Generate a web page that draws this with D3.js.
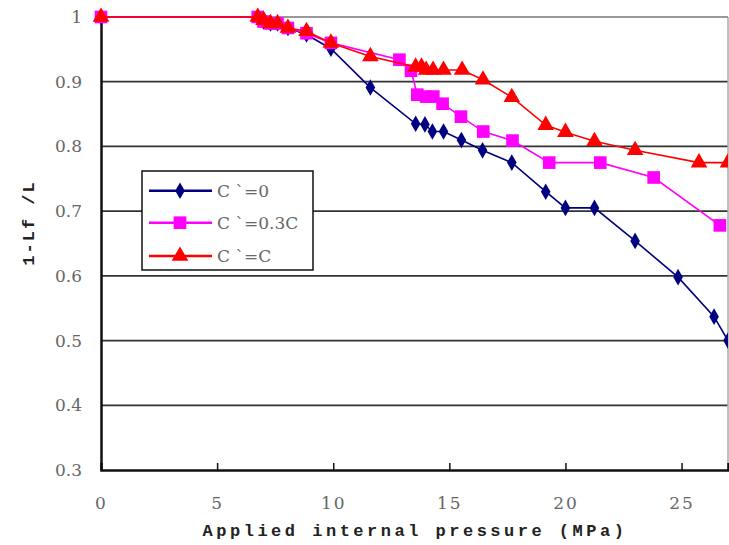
<!DOCTYPE html>
<html>
<head>
<meta charset="utf-8">
<script src="https://cdn.jsdelivr.net/npm/d3@7"></script>
<style>
  html, body { margin: 0; padding: 0; background: #fff; }
  svg { display: block; }
</style>
</head>
<body>
<svg id="chart" width="729" height="545"></svg>
<script>
// ---- data ----
const seriesNames = ["C ˋ=0", "C ˋ=0.3C", "C ˋ=C"];
const blueX = [0, 6.75, 7.0, 7.3, 7.6, 8.05, 8.85, 9.9, 11.6, 13.55, 13.95, 14.27, 14.75, 15.52, 16.43, 17.69, 19.15, 20.0, 21.25, 23.0, 24.85, 26.4, 27.0];
const blueY = [1.0, 1.0, 0.993, 0.99, 0.99, 0.983, 0.973, 0.951, 0.891, 0.835, 0.834, 0.823, 0.823, 0.810, 0.794, 0.775, 0.730, 0.705, 0.705, 0.654, 0.598, 0.537, 0.50];
const pinkX = [0, 6.75, 7.0, 7.3, 7.6, 8.05, 8.85, 9.9, 12.85, 13.35, 13.62, 14.0, 14.31, 14.71, 15.5, 16.46, 17.72, 19.3, 21.5, 23.8, 26.65];
const pinkY = [1.0, 1.0, 0.993, 0.99, 0.99, 0.983, 0.975, 0.96, 0.934, 0.917, 0.880, 0.877, 0.877, 0.866, 0.846, 0.823, 0.809, 0.775, 0.775, 0.752, 0.678];
const redX = [0, 6.75, 7.0, 7.3, 7.6, 8.05, 8.85, 9.9, 11.6, 13.55, 13.8, 14.0, 14.3, 14.75, 15.55, 16.45, 17.69, 19.15, 20.0, 21.25, 23.0, 25.75, 27.0];
const redY = [1.0, 1.0, 0.995, 0.99, 0.99, 0.983, 0.978, 0.96, 0.939, 0.923, 0.923, 0.918, 0.918, 0.918, 0.918, 0.903, 0.876, 0.833, 0.822, 0.808, 0.794, 0.775, 0.775];
const xTicks = [0, 5, 10, 15, 20, 25];
const yTicks = [0.3, 0.4, 0.5, 0.6, 0.7, 0.8, 0.9, 1.0];
const xTitle = "Applied internal pressure (MPa)";
const yTitle = "1-Lf /L";

// ---- layout ----
const svg = d3.select("#chart");
const L = 101, R = 728, T = 17, B = 470;
const x = d3.scaleLinear().domain([0, 27]).range([L, R]);
const y = d3.scaleLinear().domain([0.3, 1.0]).range([B, T]);

const labelFont = "'DejaVu Serif', 'Liberation Serif', serif";
const titleFont = "'Liberation Mono', 'DejaVu Sans Mono', monospace";

// gridlines
svg.append("g").selectAll("line")
  .data(yTicks.filter(d => d > 0.3 && d < 1.0))
  .join("line")
  .attr("x1", L).attr("x2", R)
  .attr("y1", d => y(d)).attr("y2", d => y(d))
  .attr("stroke", "#333").attr("stroke-width", 1.8);

// top and right borders
svg.append("line").attr("x1", L).attr("x2", R).attr("y1", y(1)).attr("y2", y(1))
  .attr("stroke", "#999").attr("stroke-width", 2);
svg.append("line").attr("x1", R).attr("x2", R).attr("y1", T).attr("y2", B)
  .attr("stroke", "#aaa").attr("stroke-width", 1.5);

// y axis
const yAxis = svg.append("g").attr("transform", `translate(${L},0)`)
  .call(d3.axisLeft(y).tickValues(yTicks).tickSize(0).tickPadding(19)
    .tickFormat(d => d === 1 ? "1" : d.toFixed(1)));
yAxis.select(".domain").attr("stroke", "#111").attr("stroke-width", 2.5);
yAxis.selectAll("text").attr("font-family", labelFont).attr("font-size", 17)
  .attr("fill", "#666");

// x axis
const xAxis = svg.append("g").attr("transform", `translate(0,${B})`)
  .call(d3.axisBottom(x).tickValues(xTicks).tickSize(-7).tickPadding(0)
    .tickFormat(d3.format("d")));
xAxis.select(".domain").attr("stroke", "#111").attr("stroke-width", 2.5);
xAxis.selectAll(".tick line").attr("stroke", "#111").attr("stroke-width", 1.5);
xAxis.selectAll("text").attr("font-family", labelFont).attr("font-size", 17)
  .attr("fill", "#666").attr("dy", null).attr("y", 39).attr("letter-spacing", 2);

// titles
svg.append("text").attr("x", (203 + 627) / 2).attr("y", 536)
  .attr("text-anchor", "middle").attr("font-family", titleFont)
  .attr("font-weight", "bold").attr("font-size", 17).attr("letter-spacing", 3.5)
  .attr("fill", "#222").text(xTitle);
svg.append("text").attr("transform", "translate(34,223) rotate(-90)")
  .attr("text-anchor", "middle").attr("font-family", titleFont)
  .attr("font-weight", "bold").attr("font-size", 17).attr("letter-spacing", 2)
  .attr("fill", "#222").text(yTitle);

// clip
svg.append("clipPath").attr("id", "clip").append("rect")
  .attr("x", L - 20).attr("y", T - 20).attr("width", R - L + 20).attr("height", B - T + 40);

const series = [
  { name: seriesNames[0], xs: blueX, ys: blueY, color: "#000080", sym: d3.symbolDiamond, size: 80 },
  { name: seriesNames[1], xs: pinkX, ys: pinkY, color: "#ff00ff", sym: d3.symbolSquare, size: 160 },
  { name: seriesNames[2], xs: redX, ys: redY, color: "#ff0000", sym: d3.symbolTriangle, size: 120 }
];

const plot = svg.append("g").attr("clip-path", "url(#clip)");
const line = d3.line().x(d => x(d[0])).y(d => y(d[1]));
series.forEach(s => {
  const pts = s.xs.map((v, i) => [v, s.ys[i]]);
  const g = plot.append("g");
  g.append("path").datum(pts).attr("d", line).attr("fill", "none")
    .attr("stroke", s.color).attr("stroke-width", 1.6);
  g.selectAll("path.m").data(pts).join("path").attr("class", "m")
    .attr("transform", d => `translate(${x(d[0])},${y(d[1])})`)
    .attr("d", d3.symbol().type(s.sym).size(s.size))
    .attr("fill", s.color);
});

// legend
const lg = svg.append("g");
lg.append("rect").attr("x", 142).attr("y", 171).attr("width", 171).attr("height", 99)
  .attr("fill", "#fff").attr("stroke", "#111").attr("stroke-width", 1.5);
const rowsY = [190.7, 222.7, 256];
series.forEach((s, i) => {
  const yy = rowsY[i];
  lg.append("line").attr("x1", 149).attr("x2", 212).attr("y1", yy).attr("y2", yy)
    .attr("stroke", s.color).attr("stroke-width", 2.5);
  lg.append("path").attr("transform", `translate(180,${yy})`)
    .attr("d", d3.symbol().type(s.sym).size(s.size)).attr("fill", s.color);
  lg.append("text").attr("x", 217).attr("y", yy + 6)
    .attr("font-family", labelFont).attr("font-size", 17).attr("fill", "#666")
    .text(s.name);
});
</script>
</body>
</html>
